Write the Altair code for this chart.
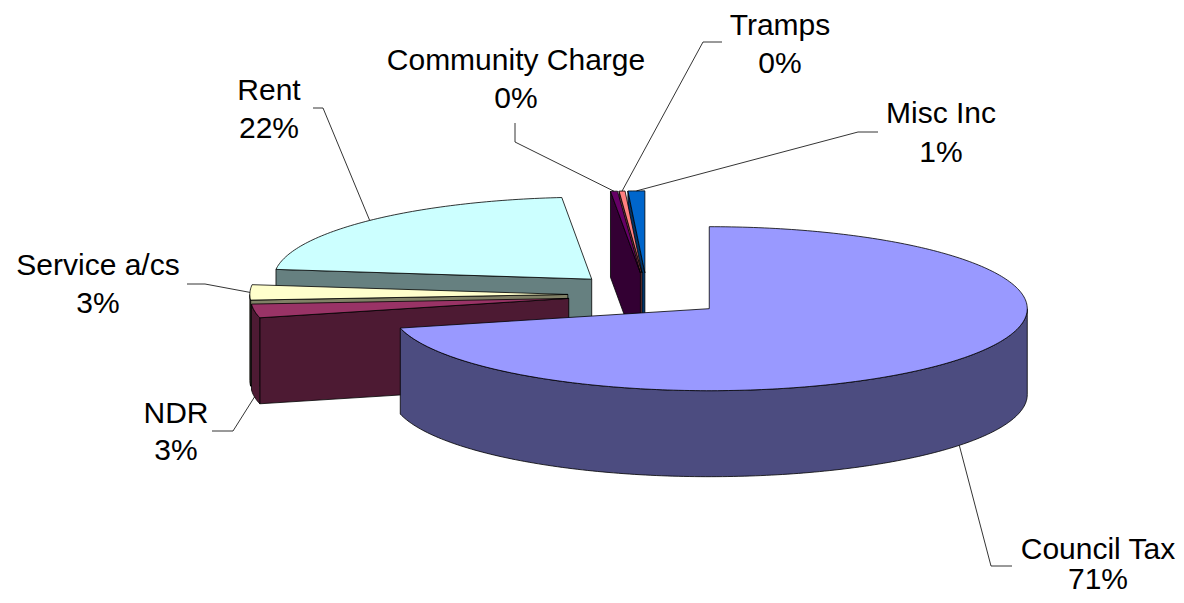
import altair as alt
import numpy as np
import pandas as pd

# income split (per cent of total)
categories = ["Council Tax", "NDR", "Service a/cs", "Rent", "Community Charge", "Tramps", "Misc Inc"]
shares = [71.2, 2.7, 3.0, 21.6, 0.35, 0.3, 0.85]

# styles
top_colors = ["#9999FF", "#993366", "#FFFFCC", "#CCFFFF", "#660066", "#FF8080", "#0066CC"]
side_colors = ["#4C4C80", "#4D1A33", "#808066", "#668080", "#330033", "#804040", "#003366"]

# 3-d pie layout, page pixels
CX, CY = 647, 295
RX, RY = 318, 82
DEPTH = 86
EXPLODE_X, EXPLODE_Y = 0.249, 0.27

# label centre x, name baseline, percent baseline, leader elbow, leader end
label_layout = {
    "Council Tax": (1098, 559, 589, (991, 566), (1012, 566)),
    "NDR": (176, 423, 460, (233, 431), (212, 431)),
    "Service a/cs": (98, 275, 313, (205, 284), (187, 284)),
    "Rent": (269, 100, 138, (323, 108), (313, 108)),
    "Community Charge": (516, 70, 108, (515, 142), (515, 123)),
    "Tramps": (780, 35, 73, (703, 42), (722, 42)),
    "Misc Inc": (941, 123, 162, (858, 132), (878, 132)),
}

total = sum(shares)
ends = np.cumsum(shares) / total * 360.0
starts = ends - np.array(shares) / total * 360.0


def rim(cx, cy, a, dz=0.0):
    r = np.radians(a)
    return cx + RX * np.sin(r), cy - RY * np.cos(r) + dz


def arc(cx, cy, a0, a1, dz=0.0):
    n = max(2, int(abs(a1 - a0)) + 2)
    return [rim(cx, cy, a, dz) for a in np.linspace(a0, a1, n)]


faces = []      # (fill, points) in drawing order, back to front
leaders = []
order = sorted(range(len(categories)), key=lambda i: -np.cos(np.radians((starts[i] + ends[i]) / 2)))
for i in order:
    s, e = starts[i], ends[i]
    mid = np.radians((s + e) / 2)
    cx = CX + EXPLODE_X * RX * np.sin(mid)
    cy = CY - EXPLODE_Y * RY * np.cos(mid)
    # cut faces
    if np.sin(np.radians(s)) < -1e-6:
        p = rim(cx, cy, s)
        faces.append((side_colors[i], [(cx, cy), p, (p[0], p[1] + DEPTH), (cx, cy + DEPTH)]))
    if np.sin(np.radians(e)) > 1e-6:
        p = rim(cx, cy, e)
        faces.append((side_colors[i], [(cx, cy), p, (p[0], p[1] + DEPTH), (cx, cy + DEPTH)]))
    # outer wall
    lo, hi = max(s, 90), min(e, 270)
    if hi > lo:
        faces.append((side_colors[i], arc(cx, cy, lo, hi) + arc(cx, cy, hi, lo, DEPTH)))
    # top
    faces.append((top_colors[i], [(cx, cy)] + arc(cx, cy, s, e)))
    # leader start on the rim at the bisector
    front = np.cos(mid) < 0
    leaders.append((categories[i], rim(cx, cy, np.degrees(mid), DEPTH if front else 0.0)))

face_rows = []
for f, (fill, pts) in enumerate(faces):
    for k, (x, y) in enumerate(pts):
        face_rows.append({"face": f, "k": k, "x": x, "y": y})
faces_df = pd.DataFrame(face_rows)

leader_rows = []
for name, start in leaders:
    _, _, _, elbow, end = label_layout[name]
    for k, (x, y) in enumerate([start, elbow, end]):
        leader_rows.append({"category": name, "k": k, "x": x, "y": y})
leader_df = pd.DataFrame(leader_rows)

label_df = pd.DataFrame({
    "category": categories,
    "frac": [v / total for v in shares],
    "lx": [label_layout[c][0] for c in categories],
    "y1": [label_layout[c][1] for c in categories],
    "y2": [label_layout[c][2] for c in categories],
})

xs = alt.Scale(domain=[8, 1176], nice=False, zero=False)
ys = alt.Scale(domain=[8, 595], nice=False, zero=False, reverse=True)

layers = []
for f, (fill, pts) in enumerate(faces):
    layers.append(
        alt.Chart(faces_df).transform_filter(alt.datum.face == f)
        .mark_line(interpolate="linear-closed", fill=fill, stroke="#000000",
                   strokeWidth=0.8, strokeJoin="round")
        .encode(x=alt.X("x:Q", scale=xs, axis=None),
                y=alt.Y("y:Q", scale=ys, axis=None),
                order="k:Q")
    )

lines = alt.Chart(leader_df).mark_line(stroke="#000000", strokeWidth=0.8).encode(
    x=alt.X("x:Q", scale=xs, axis=None),
    y=alt.Y("y:Q", scale=ys, axis=None),
    detail="category:N",
    order="k:Q",
)

text_base = alt.Chart(label_df).mark_text(
    font="Liberation Sans", fontSize=30, color="#000000", align="center", baseline="alphabetic"
)
names = text_base.encode(
    x=alt.X("lx:Q", scale=xs, axis=None),
    y=alt.Y("y1:Q", scale=ys, axis=None),
    text="category:N",
)
pcts = text_base.encode(
    x=alt.X("lx:Q", scale=xs, axis=None),
    y=alt.Y("y2:Q", scale=ys, axis=None),
    text=alt.Text("frac:Q", format=".0%"),
)

chart = alt.layer(*layers, lines, names, pcts).properties(
    width=1168, height=587, padding=0, autosize=alt.AutoSizeParams(type="none"),
    background="#FFFFFF",
).configure_view(stroke=None)

chart.save("out.html", embed_options={"renderer": "svg", "actions": False})
